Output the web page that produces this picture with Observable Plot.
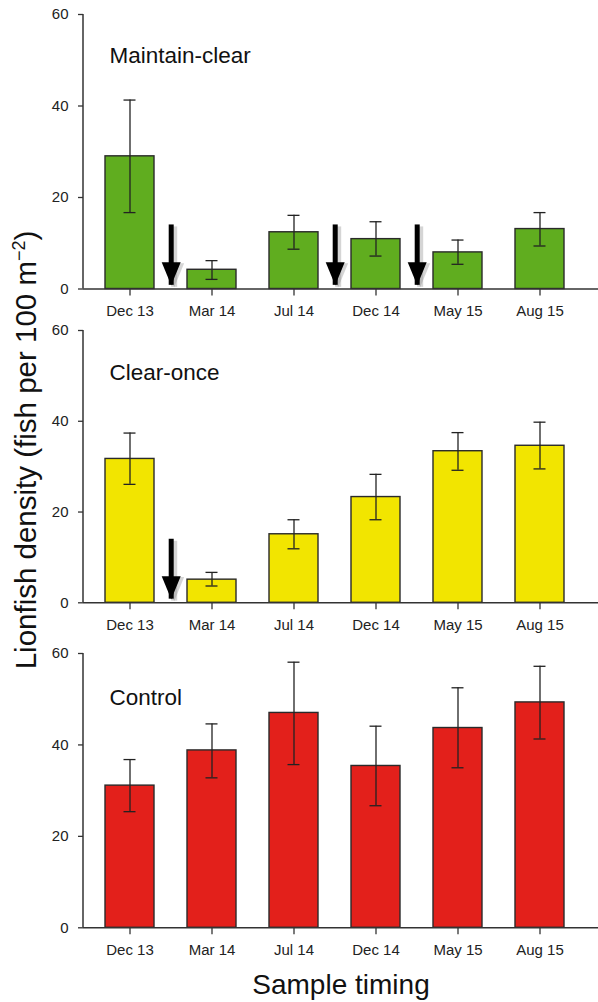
<!DOCTYPE html>
<html>
<head>
<meta charset="utf-8">
<script src="https://cdn.jsdelivr.net/npm/d3@7"></script>
<script src="https://cdn.jsdelivr.net/npm/@observablehq/plot@0.6"></script>
<style>
  html, body { margin: 0; padding: 0; background: #fff; }
  #wrap { position: relative; width: 598px; height: 1002px; overflow: hidden; font-family: "Liberation Sans", Arial, sans-serif; color: #111; }
  .panel { position: absolute; left: 0; }
  #ylab { position: absolute; left: 26px; top: 450px; transform: translate(-50%, -50%) rotate(-90deg); white-space: nowrap; font-size: 29.5px; line-height: 29.5px; }
  #ylab sup { font-size: 18px; vertical-align: 11px; line-height: 0; }
  #xlab { position: absolute; left: 341px; top: 971px; transform: translateX(-50%); white-space: nowrap; font-size: 28px; line-height: 28px; }
</style>
</head>
<body>
<div id="wrap">
  <div id="ylab">Lionfish density (fish per 100 m<sup>−2</sup>)</div>
  <div id="xlab">Sample timing</div>
</div>
<script>
// ---- data ----
const dates = ["Dec 13", "Mar 14", "Jul 14", "Dec 14", "May 15", "Aug 15"];
const yTicks = [0, 20, 40, 60];

const maintainMean = [29.0, 4.2, 12.4, 10.9, 8.0, 13.1];
const maintainLow  = [16.7, 2.1, 8.7, 7.2, 5.4, 9.4];
const maintainHigh = [41.3, 6.2, 16.1, 14.7, 10.7, 16.7];

const clearOnceMean = [31.7, 5.1, 15.1, 23.3, 33.4, 34.6];
const clearOnceLow  = [26.1, 3.7, 11.9, 18.3, 29.2, 29.5];
const clearOnceHigh = [37.4, 6.7, 18.3, 28.3, 37.5, 39.8];

const controlMean = [31.1, 38.8, 47.0, 35.4, 43.7, 49.3];
const controlLow  = [25.4, 32.8, 35.7, 26.7, 35.0, 41.3];
const controlHigh = [36.8, 44.6, 58.1, 44.1, 52.5, 57.2];

// removal events: arrow drawn after these sample dates
const maintainRemovalsAfter = ["Dec 13", "Jul 14", "Dec 14"];
const clearOnceRemovalsAfter = ["Dec 13"];
const arrowTop = 14;
const arrowTip = 0.8;

// ---- drawing ----
const font = '"Liberation Sans", Arial, sans-serif';
const ink = "#222";

const arrowHead = {
  draw(ctx, size) {
    const r = Math.sqrt(size / Math.PI);
    const w = r * 0.95, h = r * 2.3;
    ctx.moveTo(-w, -h);
    ctx.lineTo(w, -h);
    ctx.lineTo(0, 0);
    ctx.closePath();
  }
};

// vertical y-axis line along the left of the frame, from the y scale's domain
function yAxisLine(index, scales, values, dimensions) {
  const [y0, y1] = scales.y.domain ? [scales.y(0), scales.y(60)] : [0, 0];
  const line = document.createElementNS("http://www.w3.org/2000/svg", "line");
  line.setAttribute("x1", dimensions.marginLeft);
  line.setAttribute("x2", dimensions.marginLeft);
  line.setAttribute("y1", y0);
  line.setAttribute("y2", y1);
  line.setAttribute("stroke", "#333");
  line.setAttribute("stroke-width", 1.5);
  const g = document.createElementNS("http://www.w3.org/2000/svg", "g");
  g.appendChild(line);
  return g;
}

function panel(title, means, lows, highs, color, removalsAfter, top, plotH, titleDy) {
  const rows = dates.map((d, i) => ({date: d, mean: means[i], low: lows[i], high: highs[i]}));
  const arrows = removalsAfter.map(a => ({date: a, top: arrowTop, tip: arrowTip}));
  const mt = 14, mb = 36;
  const half = 41.2; // half a band step: arrows sit between samples
  const chart = Plot.plot({
    width: 598,
    height: mt + plotH + mb,
    marginTop: mt, marginBottom: mb, marginLeft: 83, marginRight: 0,
    style: {background: "transparent", fontFamily: font, fontSize: "15px", color: ink, overflow: "visible"},
    x: {domain: dates, paddingInner: 0.4, paddingOuter: 0.2, insetLeft: 5, insetRight: 16, label: null},
    y: {domain: [0, 60], label: null},
    marks: [
      Plot.barY(rows, {x: "date", y: "mean", fill: color, stroke: "#2a2a2a", strokeWidth: 1.4}),
      Plot.ruleX(rows, {x: "date", y1: "low", y2: "high", stroke: ink, strokeWidth: 1.3}),
      Plot.tickY(rows, {x: "date", y: "low", stroke: ink, strokeWidth: 1.3, insetLeft: 18.5, insetRight: 18.5}),
      Plot.tickY(rows, {x: "date", y: "high", stroke: ink, strokeWidth: 1.3, insetLeft: 18.5, insetRight: 18.5}),
      // arrow shadows
      Plot.ruleX(arrows, {x: "date", y1: "top", y2: "tip", dx: half + 3, dy: 2, stroke: "#888", strokeOpacity: 0.35, strokeWidth: 6}),
      Plot.dot(arrows, {x: "date", y: "tip", dx: half + 3, dy: 2, symbol: arrowHead, r: 10.5, fill: "#888", fillOpacity: 0.35, stroke: null}),
      // arrows
      Plot.ruleX(arrows, {x: "date", y1: "top", y2: "tip", dx: half, stroke: "#000", strokeWidth: 5}),
      Plot.dot(arrows, {x: "date", y: "tip", dx: half, symbol: arrowHead, r: 10, fill: "#000", stroke: null}),
      Plot.axisY({ticks: yTicks, tickSize: 5, tickPadding: 10, stroke: "#333", strokeWidth: 1.3, fontSize: 15}),
      Plot.axisX({tickSize: 7, tickPadding: 9.5, stroke: "#333", strokeWidth: 1.3, fontSize: 15}),
      Plot.ruleY([0], {stroke: "#333", strokeWidth: 1.5}),
      yAxisLine,
      Plot.text([title], {frameAnchor: "top-left", dx: 26, dy: titleDy, textAnchor: "start", lineAnchor: "middle", fontSize: 22.5, fill: "#111"})
    ]
  });
  chart.classList.add("panel");
  chart.style.top = (top - mt) + "px";
  chart.style.position = "absolute";
  document.getElementById("wrap").appendChild(chart);
}

panel("Maintain-clear", maintainMean, maintainLow, maintainHigh, "#60ad1f", maintainRemovalsAfter, 14, 274.5, 41);
panel("Clear-once", clearOnceMean, clearOnceLow, clearOnceHigh, "#f2e500", clearOnceRemovalsAfter, 330, 272.3, 42);
panel("Control", controlMean, controlLow, controlHigh, "#e3201b", [], 652.7, 274.3, 44);
</script>
</body>
</html>
